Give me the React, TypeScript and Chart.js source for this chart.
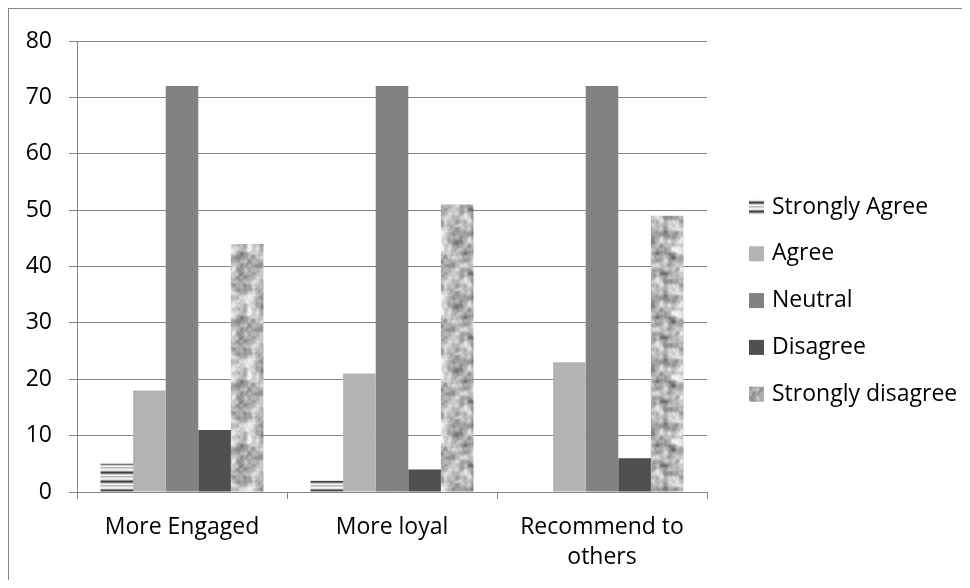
import { useEffect, useRef } from "react";
import { Chart, registerables } from "chart.js";

Chart.register(...registerables);

// Survey responses per statement
const categories: (string | string[])[] = ["More Engaged", "More loyal", ["Recommend to", "others"]];
const seriesNames = ["Strongly Agree", "Agree", "Neutral", "Disagree", "Strongly disagree"];
const stronglyAgree = [5, 2, 0];
const agree = [18, 21, 23];
const neutral = [72, 72, 72];
const disagree = [11, 4, 6];
const stronglyDisagree = [44, 51, 49];
const yMin = 0;
const yMax = 80;
const yStep = 10;

const GRID = "#868686";
const FONT_FAMILY = "'Open Sans', 'Noto Sans', sans-serif";
const FONT_SIZE = 23;

// Horizontal metallic stripes
function stripePattern(ctx: CanvasRenderingContext2D): CanvasPattern | string {
  const c = document.createElement("canvas");
  c.width = 4;
  c.height = 9;
  const g = c.getContext("2d");
  if (!g) return "#999";
  const rows = ["#d4d4d4", "#f4f4f4", "#e2e2e2", "#8e8e8e", "#404040", "#777777", "#cbcbcb", "#f8f8f8", "#b8b8b8"];
  rows.forEach((col, i) => {
    g.fillStyle = col;
    g.fillRect(0, i, 4, 1);
  });
  return ctx.createPattern(c, "repeat") || "#999";
}

// Speckled granite texture built from a seeded value-noise
function granitePattern(ctx: CanvasRenderingContext2D): CanvasPattern | string {
  const size = 64;
  const c = document.createElement("canvas");
  c.width = size;
  c.height = size;
  const g = c.getContext("2d");
  if (!g) return "#aaa";
  let seed = 20240611;
  const rand = () => {
    seed = (Math.imul(seed, 1664525) + 1013904223) >>> 0;
    return seed / 4294967296;
  };
  const octave = (cell: number) => {
    const n = size / cell;
    const grid: number[] = [];
    for (let i = 0; i < n * n; i++) grid.push(rand());
    const at = (x: number, y: number) => grid[((y + n) % n) * n + ((x + n) % n)];
    return (px: number, py: number) => {
      const fx = px / cell;
      const fy = py / cell;
      const x0 = Math.floor(fx);
      const y0 = Math.floor(fy);
      let tx = fx - x0;
      let ty = fy - y0;
      tx = tx * tx * (3 - 2 * tx);
      ty = ty * ty * (3 - 2 * ty);
      const a = at(x0, y0) * (1 - tx) + at(x0 + 1, y0) * tx;
      const b = at(x0, y0 + 1) * (1 - tx) + at(x0 + 1, y0 + 1) * tx;
      return a * (1 - ty) + b * ty;
    };
  };
  const o1 = octave(8);
  const o2 = octave(4);
  const o3 = octave(2);
  const img = g.createImageData(size, size);
  for (let y = 0; y < size; y++) {
    for (let x = 0; x < size; x++) {
      const v = 0.5 * o1(x, y) + 0.35 * o2(x, y) + 0.15 * o3(x, y);
      const gray = Math.max(100, Math.min(245, Math.round(80 + 200 * v)));
      const k = (y * size + x) * 4;
      img.data[k] = gray;
      img.data[k + 1] = gray;
      img.data[k + 2] = gray;
      img.data[k + 3] = 255;
    }
  }
  g.putImageData(img, 0, 0);
  return ctx.createPattern(c, "repeat") || "#aaa";
}

// Legend listed down the right side of the plot
const sideLegend = {
  id: "sideLegend",
  afterDraw(chart: any) {
    const { ctx, chartArea } = chart;
    const x = chartArea.right + 42;
    const top = 198;
    const step = 46.8;
    const box = 15;
    ctx.save();
    ctx.font = `${FONT_SIZE}px ${FONT_FAMILY}`;
    ctx.textBaseline = "middle";
    ctx.textAlign = "left";
    chart.data.datasets.forEach((ds: any, i: number) => {
      const cy = top + i * step;
      ctx.fillStyle = ds.backgroundColor;
      ctx.fillRect(x, cy - box / 2, box, box);
      ctx.fillStyle = "#000";
      ctx.fillText(ds.label, x + 23, cy);
    });
    ctx.restore();
  },
};

export default function App() {
  const ref = useRef<HTMLCanvasElement | null>(null);

  useEffect(() => {
    const canvas = ref.current;
    if (!canvas) return;
    const ctx = canvas.getContext("2d");
    if (!ctx) return;
    const font = { family: FONT_FAMILY, size: FONT_SIZE, lineHeight: "30px" };

    const chart = new Chart(canvas, {
      type: "bar",
      data: {
        labels: categories,
        datasets: [
          { label: seriesNames[0], data: stronglyAgree, backgroundColor: stripePattern(ctx) },
          { label: seriesNames[1], data: agree, backgroundColor: "#b3b3b3" },
          { label: seriesNames[2], data: neutral, backgroundColor: "#828282" },
          { label: seriesNames[3], data: disagree, backgroundColor: "#4f4f4f" },
          { label: seriesNames[4], data: stronglyDisagree, backgroundColor: granitePattern(ctx) },
        ] as any,
      },
      options: {
        responsive: false,
        animation: false,
        layout: { padding: { top: 29, right: 255, bottom: 0, left: 0 } },
        datasets: { bar: { categoryPercentage: 0.776, barPercentage: 1 } },
        plugins: {
          legend: { display: false },
          tooltip: { enabled: false },
        },
        scales: {
          x: {
            grid: { offset: true, drawOnChartArea: false, tickLength: 7, color: GRID },
            border: { color: GRID },
            ticks: { padding: 13, color: "#000", font, maxRotation: 0 },
            afterFit: (s: any) => {
              s.height = 88;
            },
          },
          y: {
            min: yMin,
            max: yMax,
            grid: { tickLength: 8, color: GRID },
            border: { color: GRID },
            ticks: { stepSize: yStep, padding: 17, color: "#000", font },
            afterFit: (s: any) => {
              s.width = 68;
            },
          },
        },
      },
      plugins: [sideLegend],
    });

    return () => chart.destroy();
  }, []);

  return (
    <div
      style={{
        borderLeft: `1px solid ${GRID}`,
        borderTop: `1px solid ${GRID}`,
        width: 953,
        height: 571,
      }}
    >
      <canvas ref={ref} width={953} height={571} style={{ display: "block" }} />
    </div>
  );
}
